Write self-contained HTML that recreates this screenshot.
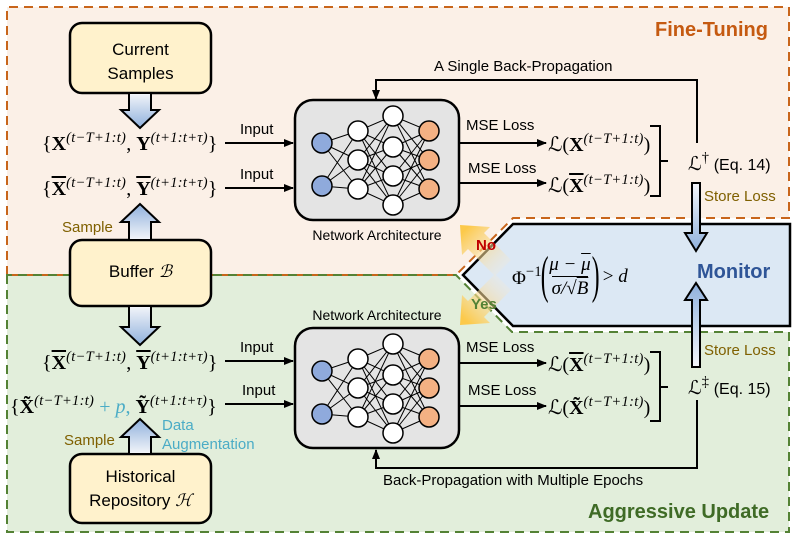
<!DOCTYPE html>
<html><head><meta charset="utf-8"><style>
body{margin:0;width:797px;height:540px;background:#fff;position:relative;overflow:hidden;font-family:"Liberation Sans",sans-serif}
.t{position:absolute;white-space:nowrap;line-height:1}
.m{font-family:"Liberation Serif","DejaVu Serif",serif;font-size:20px}
.m sup{font-size:14.5px;font-style:italic;vertical-align:8px;letter-spacing:0.3px}
.ob{text-decoration:overline}
.s{font-size:15px;color:#000}
</style></head><body>
<svg width="797" height="540" style="position:absolute;left:0;top:0">
<defs>
<linearGradient id="ba" x1="0" y1="0" x2="0" y2="1"><stop offset="0" stop-color="#f4f6fa"/><stop offset="1" stop-color="#8fb0dc"/></linearGradient>
<linearGradient id="bu" x1="0" y1="1" x2="0" y2="0"><stop offset="0" stop-color="#f4f6fa"/><stop offset="1" stop-color="#8fb0dc"/></linearGradient>
<linearGradient id="yn1" gradientUnits="userSpaceOnUse" x1="505" y1="270" x2="465" y2="230"><stop offset="0" stop-color="#f6ead8" stop-opacity="0.2"/><stop offset="1" stop-color="#fcc94a"/></linearGradient>
<linearGradient id="yn2" gradientUnits="userSpaceOnUse" x1="505" y1="280" x2="465" y2="320"><stop offset="0" stop-color="#f6ead8" stop-opacity="0.2"/><stop offset="1" stop-color="#fcc94a"/></linearGradient>
<marker id="ar" markerWidth="10" markerHeight="10" refX="9" refY="5" orient="auto" markerUnits="userSpaceOnUse"><path d="M0,1 L10,5 L0,9 z" fill="#000"/></marker>
</defs>
<path d="M7,7 H789 V218 H513 L456,275 H7 Z" fill="#fbf0e7"/>
<path d="M7,275 H456 L512,332 H789 V532 H7 Z" fill="#e2eedb"/>
<path d="M7,275 V7 H789 V218 H513 L456,275 Z" fill="none" stroke="#c8651b" stroke-width="2" stroke-dasharray="9,6"/>
<path d="M7,275 V532 H789 V332 H512 L456,275 Z" fill="none" stroke="#548235" stroke-width="2" stroke-dasharray="9,6"/>
<path d="M513,224 H790 V326 H513 L463,275 Z" fill="#dce8f4" stroke="#000" stroke-width="2.5"/>
<polygon points="511,260 484,233 490,227 460,225 462,255 468,249 495,276" fill="url(#yn1)"/>
<polygon points="511,290 484,317 490,323 460,325 462,295 468,301 495,274" fill="url(#yn2)"/>
<rect x="70" y="23" width="141" height="70" rx="12" fill="#fff2cc" stroke="#000" stroke-width="2.5"/>
<rect x="70" y="240" width="141" height="66" rx="12" fill="#fff2cc" stroke="#000" stroke-width="2.5"/>
<rect x="70" y="454" width="141" height="69" rx="12" fill="#fff2cc" stroke="#000" stroke-width="2.5"/>
<path d="M129,93 H151 V110 H159 L140,128 L121,110 H129 Z" fill="url(#ba)" stroke="#000" stroke-width="2"/>
<path d="M129,240 H151 V222 H159 L140,204 L121,222 H129 Z" fill="url(#bu)" stroke="#000" stroke-width="2"/>
<path d="M129,306 H151 V327 H159 L140,345 L121,327 H129 Z" fill="url(#ba)" stroke="#000" stroke-width="2"/>
<path d="M129,454 H151 V437 H159 L140,419 L121,437 H129 Z" fill="url(#bu)" stroke="#000" stroke-width="2"/>
<path d="M692,183 H700 V233 H707 L696,251 L685,233 H692 Z" fill="url(#ba)" stroke="#000" stroke-width="2"/>
<path d="M692,367 H700 V300 H707 L696,283 L685,300 H692 Z" fill="url(#bu)" stroke="#000" stroke-width="2"/>
<g stroke="#000" stroke-width="2" fill="none" marker-end="url(#ar)">
<line x1="225" y1="143" x2="293" y2="143"/>
<line x1="225" y1="188" x2="293" y2="188"/>
<line x1="225" y1="361" x2="293" y2="361"/>
<line x1="225" y1="404" x2="293" y2="404"/>
<line x1="460" y1="143" x2="546" y2="143"/>
<line x1="460" y1="183" x2="546" y2="183"/>
<line x1="460" y1="363" x2="546" y2="363"/>
<line x1="460" y1="406" x2="546" y2="406"/>
<polyline points="697,143 697,80 376,80 376,99"/>
<polyline points="697,400 697,468 376,468 376,450"/>
</g>
<path d="M650,126 H660 V196 H650 M660,161 H668" fill="none" stroke="#000" stroke-width="2"/>
<path d="M650,352 H660 V421 H650 M660,387 H668" fill="none" stroke="#000" stroke-width="2"/>
<g id="net">
<rect x="295" y="100" width="164" height="120" rx="18" fill="#e4e4e4" stroke="#000" stroke-width="2.5"/>
<g stroke="#000" stroke-width="1">
<path d="M322,143 L358,131 M322,143 L358,160 M322,143 L358,189 M322,186 L358,131 M322,186 L358,160 M322,186 L358,189"/>
<path d="M358,131 L393,116 M358,131 L393,147 M358,131 L393,176 M358,131 L393,205 M358,160 L393,116 M358,160 L393,147 M358,160 L393,176 M358,160 L393,205 M358,189 L393,116 M358,189 L393,147 M358,189 L393,176 M358,189 L393,205"/>
<path d="M393,116 L429,131 M393,116 L429,160 M393,116 L429,189 M393,147 L429,131 M393,147 L429,160 M393,147 L429,189 M393,176 L429,131 M393,176 L429,160 M393,176 L429,189 M393,205 L429,131 M393,205 L429,160 M393,205 L429,189"/>
</g>
<g stroke="#000" stroke-width="1.5">
<circle cx="322" cy="143" r="10" fill="#8faadc"/><circle cx="322" cy="186" r="10" fill="#8faadc"/>
<circle cx="358" cy="131" r="10" fill="#fff"/><circle cx="358" cy="160" r="10" fill="#fff"/><circle cx="358" cy="189" r="10" fill="#fff"/>
<circle cx="393" cy="116" r="10" fill="#fff"/><circle cx="393" cy="147" r="10" fill="#fff"/><circle cx="393" cy="176" r="10" fill="#fff"/><circle cx="393" cy="205" r="10" fill="#fff"/>
<circle cx="429" cy="131" r="10" fill="#f4b183"/><circle cx="429" cy="160" r="10" fill="#f4b183"/><circle cx="429" cy="189" r="10" fill="#f4b183"/>
</g>
</g>
<use href="#net" transform="translate(0,228)"/>
</svg>

<div class="t" style="left:70px;top:38px;width:141px;text-align:center;font-size:17px;line-height:24px">Current<br>Samples</div>
<div class="t" style="left:70px;top:263px;width:141px;text-align:center;font-size:17px">Buffer <span style="font-family:'Liberation Serif',serif;font-style:italic">ℬ</span></div>
<div class="t" style="left:70px;top:465px;width:141px;text-align:center;font-size:17px;line-height:24px">Historical<br>Repository <span style="font-family:'Liberation Serif',serif;font-style:italic">ℋ</span></div>

<div class="t m" style="left:42px;top:131px">{<b>X</b><sup>(t−T+1:t)</sup>, <b>Y</b><sup>(t+1:t+τ)</sup>}</div>
<div class="t m" style="left:42px;top:176px">{<b class="ob">X</b><sup>(t−T+1:t)</sup>, <b class="ob">Y</b><sup>(t+1:t+τ)</sup>}</div>
<div class="t m" style="left:42px;top:350px">{<b class="ob">X</b><sup>(t−T+1:t)</sup>, <b class="ob">Y</b><sup>(t+1:t+τ)</sup>}</div>
<div class="t m" style="left:10px;top:394px">{<b>X̃</b><sup>(t−T+1:t)</sup> <span style="color:#4bacc6">+ <i>p</i>,</span> <b>Ỹ</b><sup>(t+1:t+τ)</sup>}</div>

<div class="t" style="left:62px;top:220px;font-size:15px;color:#7f6000">Sample</div>
<div class="t" style="left:64px;top:433px;font-size:15px;color:#7f6000">Sample</div>
<div class="t" style="left:162px;top:416px;font-size:15px;color:#4bacc6;line-height:19px">Data<br>Augmentation</div>

<div class="t s" style="left:240px;top:122px">Input</div>
<div class="t s" style="left:240px;top:167px">Input</div>
<div class="t s" style="left:240px;top:340px">Input</div>
<div class="t s" style="left:242px;top:383px">Input</div>

<div class="t" style="left:295px;top:228px;width:164px;text-align:center;font-size:14px">Network Architecture</div>
<div class="t" style="left:295px;top:308px;width:164px;text-align:center;font-size:14px">Network Architecture</div>

<div class="t s" style="left:466px;top:118px">MSE Loss</div>
<div class="t s" style="left:468px;top:161px">MSE Loss</div>
<div class="t s" style="left:466px;top:340px">MSE Loss</div>
<div class="t s" style="left:468px;top:383px">MSE Loss</div>

<div class="t m" style="left:548px;top:132px">ℒ(<b>X</b><sup>(t−T+1:t)</sup>)</div>
<div class="t m" style="left:548px;top:173px">ℒ(<b class="ob">X</b><sup>(t−T+1:t)</sup>)</div>
<div class="t m" style="left:548px;top:352px">ℒ(<b class="ob">X</b><sup>(t−T+1:t)</sup>)</div>
<div class="t m" style="left:548px;top:395px">ℒ(<b>X̃</b><sup>(t−T+1:t)</sup>)</div>

<div class="t" style="left:688px;top:151px;font-size:16px"><span class="m" style="font-size:19px">ℒ<sup style="font-style:normal">†</sup></span> (Eq. 14)</div>
<div class="t" style="left:688px;top:375px;font-size:16px"><span class="m" style="font-size:19px">ℒ<sup style="font-style:normal">‡</sup></span> (Eq. 15)</div>

<div class="t" style="left:704px;top:189px;font-size:15px;color:#7f6000">Store Loss</div>
<div class="t" style="left:704px;top:343px;font-size:15px;color:#7f6000">Store Loss</div>

<div class="t" style="left:434px;top:59px;font-size:15px">A Single Back-Propagation</div>
<div class="t" style="left:383px;top:473px;font-size:15px">Back-Propagation with Multiple Epochs</div>

<div class="t" style="left:655px;top:20px;font-size:20px;font-weight:bold;color:#c55a11">Fine-Tuning</div>
<div class="t" style="left:588px;top:502px;font-size:20px;font-weight:bold;color:#3f6b26">Aggressive Update</div>
<div class="t" style="left:697px;top:262px;font-size:20px;font-weight:bold;color:#2f5597">Monitor</div>
<div class="t" style="left:476px;top:238px;font-size:15px;font-weight:bold;color:#c00000">No</div>
<div class="t" style="left:471px;top:297px;font-size:15px;font-weight:bold;color:#548235">Yes</div>

<div class="t m" style="left:512px;top:250px;font-size:19px;display:flex;align-items:center">
<span>Φ<sup style="font-style:normal">−1</sup></span>
<span style="font-size:52px;font-weight:100;transform:scaleX(0.45);display:inline-block;margin:0 -6px">(</span>
<span style="display:inline-flex;flex-direction:column;align-items:center;font-style:italic">
<span style="padding:0 2px 2px">μ − <span class="ob">μ</span></span>
<span style="border-top:1px solid #000;padding-top:2px">σ/√<span class="ob">B</span></span></span>
<span style="font-size:52px;font-weight:100;transform:scaleX(0.45);display:inline-block;margin:0 -6px">)</span>
<span>&nbsp;&gt; <i>d</i></span></div>
</body></html>
